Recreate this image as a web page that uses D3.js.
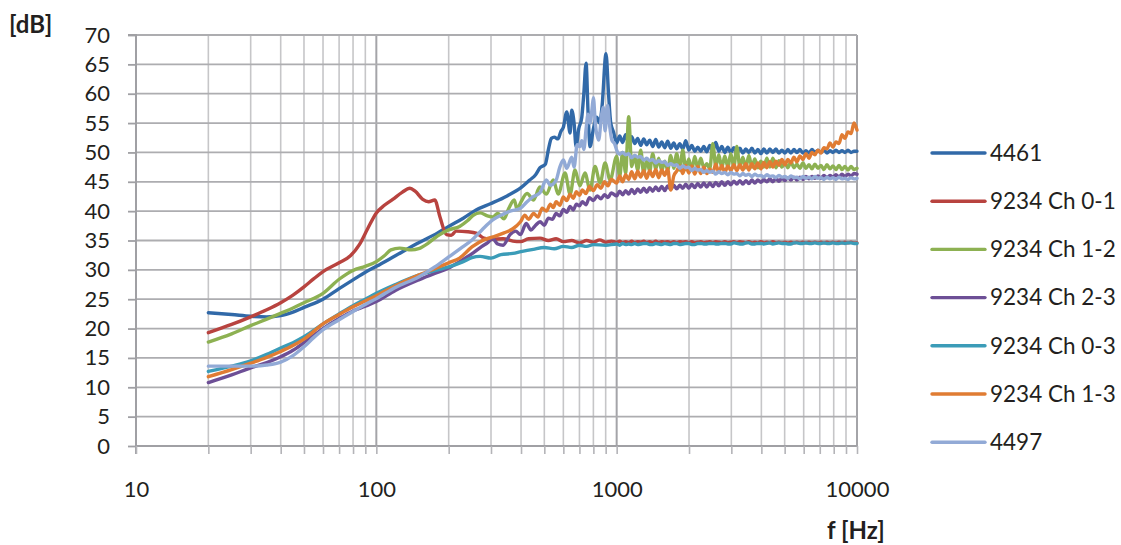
<!DOCTYPE html>
<html><head><meta charset="utf-8">
<script src="https://cdn.jsdelivr.net/npm/d3@7"></script>
<style>
body{margin:0;background:#fff}
svg{display:block;font-family:Lato,"Open Sans",sans-serif}
</style>
</head><body>
<svg id="c" width="1121" height="545"></svg>
<script>
// ---- data ----
const seriesNames = ["4461","9234 Ch 0-1","9234 Ch 1-2","9234 Ch 2-3","9234 Ch 0-3","9234 Ch 1-3","4497"];
const seriesColors = ["#3169a8","#b8433f","#8db152","#6d4f96","#3b9cb8","#e07c33","#92aad6"];
const yTicks = [0,5,10,15,20,25,30,35,40,45,50,55,60,65,70];
const xDecades = [10,100,1000,10000];
const xTickLabels = ["10","100","1000","10000"];

// shared high-frequency grid (Hz) for 1 kHz .. 10 kHz
const freqHF = [1000,1029,1059,1090,1122,1155,1189,1223,1259,1296,
  1334,1372,1413,1454,1496,1540,1585,1631,1679,1728,
  1778,1830,1884,1939,1995,2054,2113,2175,2239,2304,
  2371,2441,2512,2585,2661,2738,2818,2901,2985,3073,
  3162,3255,3350,3447,3548,3652,3758,3868,3981,4097,
  4217,4340,4467,4597,4732,4870,5012,5158,5309,5464,
  5623,5788,5957,6131,6310,6494,6683,6879,7079,7286,
  7499,7718,7943,8175,8414,8660,8913,9173,9441,9716,
  10000];

// low / mid frequency parts [Hz, dB]
const lf4461 = [[20,22.7],[25,22.4],[30,22.1],[35,22.0],[40,22.2],[45,22.8],[50,23.6],[60,25.0],[70,26.8],[80,28.3],[90,29.6],[100,30.6],[120,32.4],[150,34.6],[180,36.3],[200,37.4],[230,38.8],[260,40.2],[300,41.3],[350,42.6],[400,44.0],[435,45.3],[460,46.2],[480,47.4],[505,48.0],[520,50.5],[535,52.4],[550,52.6],[570,52.3],[585,53.5],[600,54.3],[620,56.9],[640,53.3],[650,57.2],[665,55.0],[678,51.0],[695,54.0],[716,56.0],[730,60.0],[746,65.2],[760,57.0],[775,51.0],[800,54.0],[826,56.0],[850,55.0],[870,58.0],[903,66.8],[925,60.0],[945,55.0],[970,53.5]];
const lfCh01 = [[20,19.3],[25,20.7],[30,22.0],[35,23.2],[40,24.4],[45,25.7],[50,27.1],[55,28.5],[60,29.7],[70,31.2],[78,32.4],[85,34.3],[92,37.0],[100,39.7],[108,41.0],[117,42.0],[128,43.2],[138,43.9],[145,43.4],[156,42.0],[165,41.6],[175,41.9],[184,39.0],[196,36.0],[205,35.9],[215,36.6],[240,36.5],[262,36.2],[280,35.4],[300,35.2],[337,35.3],[370,34.9],[398,34.8],[430,35.3],[480,35.4],[520,35.0],[560,35.3],[600,34.8],[650,35.0],[700,34.6],[750,35.0],[800,34.7],[850,35.1],[900,34.7],[950,34.9]];
const lfCh12 = [[20,17.7],[25,19.1],[30,20.5],[35,21.6],[40,22.6],[45,23.5],[50,24.4],[60,26.0],[70,28.4],[80,29.9],[90,30.6],[100,31.4],[108,32.4],[115,33.4],[125,33.7],[140,33.4],[150,33.6],[165,34.6],[180,35.8],[200,36.8],[222,37.4],[240,38.4],[253,39.3],[270,39.7],[290,39.2],[305,39.0],[320,39.6],[340,38.7],[355,40.4],[375,41.9],[385,40.3],[398,41.4],[424,43.0],[451,41.9],[479,44.1],[510,42.9],[545,45.3],[571,42.9],[610,46.5],[640,42.9],[671,47.0],[703,44.3],[738,46.5],[775,43.6],[813,47.6],[853,44.8],[895,48.2],[939,45.3]];
const lfCh23 = [[20,10.8],[25,12.1],[30,13.3],[35,14.2],[40,15.2],[45,16.3],[50,17.6],[60,20.0],[70,21.7],[80,23.0],[90,23.8],[100,24.6],[120,26.5],[150,28.3],[175,29.4],[200,30.3],[222,31.4],[253,32.9],[275,34.0],[290,34.6],[305,35.3],[320,34.4],[337,34.2],[360,36.0],[380,36.6],[398,36.0],[420,37.9],[440,36.8],[460,37.6],[480,38.2],[500,37.6],[520,38.8],[540,38.6],[560,39.6],[580,39.2],[600,40.3],[620,39.8],[640,40.8],[660,40.2],[680,41.2],[700,40.9],[720,41.6],[745,41.1],[770,42.3],[800,41.8],[830,42.6],[860,42.1],[890,42.8],[920,42.3],[950,43.1]];
const lfCh03 = [[20,12.7],[25,13.6],[30,14.5],[35,15.6],[40,16.7],[45,17.6],[50,18.6],[60,20.8],[70,22.5],[80,23.9],[90,25.0],[100,26.0],[120,27.5],[150,29.1],[180,30.0],[200,30.5],[230,31.4],[250,32.1],[270,32.3],[300,32.0],[330,32.6],[370,32.8],[400,33.1],[450,33.5],[500,33.8],[550,33.6],[600,34.0],[650,33.8],[700,34.2],[750,34.0],[800,34.3],[900,34.2]];
const lfCh13 = [[20,11.8],[25,13.0],[30,14.1],[35,15.1],[40,16.1],[45,17.1],[50,18.2],[60,20.8],[70,22.4],[80,23.7],[90,24.7],[100,25.6],[120,27.3],[150,29.1],[175,30.2],[200,31.2],[222,32.0],[250,33.9],[280,35.1],[305,35.6],[340,36.3],[370,37.0],[398,38.2],[415,39.3],[430,38.6],[451,39.6],[470,39.0],[490,40.5],[510,40.0],[530,41.2],[545,40.6],[560,41.6],[580,41.0],[600,42.4],[620,41.8],[640,42.9],[660,42.2],[680,43.3],[700,42.7],[720,43.6],[745,43.0],[770,44.2],[800,43.5],[830,44.5],[860,43.9],[890,45.0],[920,44.3],[950,45.4]];
const lf4497 = [[20,13.6],[25,13.6],[30,13.6],[35,13.8],[40,14.3],[45,15.4],[50,16.9],[55,18.5],[60,19.8],[70,21.5],[80,22.9],[90,24.1],[100,25.1],[120,27.0],[150,28.8],[175,30.5],[200,32.2],[225,33.7],[250,35.1],[275,36.8],[305,38.5],[330,39.3],[360,40.0],[398,40.5],[424,41.6],[451,42.5],[479,43.1],[510,45.3],[530,44.4],[560,45.3],[580,47.5],[600,48.7],[620,47.3],[650,49.2],[665,47.5],[685,51.3],[703,51.0],[716,52.0],[730,50.5],[746,54.0],[760,56.5],[775,55.0],[790,57.5],[800,59.3],[815,55.0],[841,52.1],[867,56.6],[880,57.7],[895,53.7],[916,58.0],[935,54.5],[955,52.1],[980,51.5]];

// values on freqHF
const hf4461 = [51.6,52.8,51.7,53.0,51.6,52.7,51.5,52.4,51.2,52.3,
  51.3,52.1,51.0,52.2,50.9,51.8,50.8,51.9,50.7,51.6,
  50.6,51.5,50.6,52.0,50.4,51.2,50.2,50.9,50.2,51.0,
  50.1,51.2,50.3,51.7,50.2,51.0,50.0,50.9,50.0,50.8,
  49.9,50.7,49.9,50.6,50.0,50.7,49.9,50.5,49.8,50.6,
  49.9,50.6,50.0,50.6,49.9,50.4,49.9,50.5,49.9,50.5,
  50.0,50.5,49.9,50.3,49.9,50.5,50.0,50.4,50.0,50.5,
  49.9,50.3,50.0,50.4,50.0,50.3,50.0,50.4,50.0,50.2,
  50.2];
const hfCh01 = [34.7,34.9,34.6,34.8,34.6,34.9,34.6,34.8,34.7,34.9,
  34.6,34.8,34.6,34.9,34.6,34.8,34.7,34.8,34.6,34.8,
  34.6,34.8,34.7,34.8,34.6,34.8,34.6,34.7,34.8,34.6,
  34.7,34.8,34.6,34.8,34.7,34.6,34.8,34.6,34.7,34.8,
  34.6,34.8,34.7,34.6,34.8,34.6,34.7,34.6,34.8,34.6,
  34.7,34.6,34.8,34.6,34.7,34.6,34.7,34.6,34.7,34.6,
  34.7,34.6,34.7,34.6,34.7,34.6,34.7,34.6,34.7,34.6,
  34.7,34.6,34.7,34.6,34.7,34.6,34.7,34.6,34.7,34.6,
  34.6];
const hfCh12 = [49.3,45.9,50.0,46.5,56.1,47.6,49.5,47.0,50.4,46.4,
  48.8,46.8,49.8,47.2,49.0,46.9,48.5,47.0,49.5,47.3,
  49.8,47.0,50.4,47.1,48.9,47.0,49.3,47.3,49.0,47.4,
  48.1,47.2,51.5,47.6,49.6,47.4,49.4,47.5,49.8,47.5,
  51.0,47.5,49.2,47.4,49.5,47.5,48.9,47.4,48.5,47.5,
  49.0,47.5,49.0,47.4,48.6,47.5,48.2,47.4,48.4,47.4,
  48.0,47.3,48.2,47.3,47.9,47.2,48.0,47.3,47.8,47.1,
  47.9,47.2,47.7,47.1,47.8,47.1,47.6,47.0,47.6,47.1,
  47.3];
const hfCh23 = [42.6,43.4,42.8,43.5,42.9,43.7,43.0,43.8,43.2,43.9,
  43.2,44.0,43.4,44.1,43.5,44.2,43.5,44.3,43.7,44.4,
  43.8,44.4,43.9,44.6,43.9,44.6,44.0,44.7,44.1,44.8,
  44.1,44.8,44.2,44.9,44.3,45.0,44.4,45.0,44.5,45.1,
  44.6,45.2,44.6,45.2,44.7,45.3,44.8,45.3,44.9,45.4,
  45.0,45.5,45.0,45.6,45.1,45.6,45.2,45.7,45.3,45.8,
  45.3,45.8,45.4,45.9,45.5,45.9,45.6,46.0,45.6,46.1,
  45.7,46.1,45.8,46.2,45.8,46.3,45.9,46.3,46.0,46.4,
  46.3];
const hfCh03 = [34.4,34.2,34.5,34.3,34.4,34.3,34.5,34.3,34.4,34.5,
  34.5,34.3,34.3,34.5,34.4,34.3,34.5,34.4,34.3,34.5,
  34.5,34.3,34.4,34.5,34.5,34.3,34.3,34.5,34.5,34.4,
  34.4,34.5,34.5,34.4,34.4,34.5,34.5,34.4,34.4,34.6,
  34.5,34.4,34.4,34.6,34.6,34.4,34.4,34.5,34.5,34.4,
  34.5,34.6,34.4,34.5,34.6,34.5,34.5,34.4,34.4,34.6,
  34.6,34.5,34.5,34.6,34.5,34.5,34.6,34.5,34.5,34.6,
  34.5,34.5,34.6,34.5,34.5,34.6,34.5,34.6,34.6,34.5,
  34.5];
const hfCh13 = [44.8,46.0,45.0,46.2,45.4,46.7,45.5,46.8,45.8,46.9,
  45.6,46.9,45.9,47.1,45.7,47.0,46.1,47.2,43.6,46.0,
  46.8,47.7,46.4,47.8,46.5,47.7,46.3,47.6,46.4,47.5,
  46.4,47.2,46.6,48.0,46.6,47.8,46.6,47.7,46.9,47.9,
  46.9,47.9,47.0,48.1,47.0,48.1,47.2,48.2,47.2,48.3,
  47.4,48.4,47.5,48.5,47.8,48.8,47.9,48.8,48.2,49.2,
  48.4,49.4,48.8,49.8,49.0,50.0,49.6,50.4,49.9,50.8,
  50.6,51.6,50.9,51.8,51.5,53.0,52.4,53.5,53.2,55.0,
  53.8];
const hf4497 = [50.4,49.7,50.0,49.6,49.8,49.1,49.5,49.2,49.3,48.7,
  49.0,48.6,48.8,48.2,48.6,48.3,48.4,47.8,48.1,47.8,
  47.9,47.3,47.7,47.4,47.5,46.9,47.3,47.0,47.1,46.6,
  46.9,46.6,46.8,46.3,46.7,46.4,46.6,46.2,46.6,46.3,
  46.4,46.0,46.4,46.1,46.3,45.9,46.3,46.0,46.1,45.8,
  46.2,45.9,46.0,45.7,46.1,45.8,45.9,45.6,46.0,45.7,
  45.8,45.5,45.9,45.6,45.8,45.5,45.9,45.6,45.7,45.4,
  45.8,45.5,45.7,45.4,45.8,45.5,45.6,45.4,45.7,45.5,
  45.6];

const lowParts = [lf4461, lfCh01, lfCh12, lfCh23, lfCh03, lfCh13, lf4497];
const highParts = [hf4461, hfCh01, hfCh12, hfCh23, hfCh03, hfCh13, hf4497];

// ---- chart ----
const svg = d3.select("#c");
const x = d3.scaleLog().domain([10,10000]).range([136,857]);
const y = d3.scaleLinear().domain([0,70]).range([446,35]);

const minorX = [];
for (const d of [10,100,1000]) for (let k=2;k<=9;k++) minorX.push(d*k);

// vertical gridlines
svg.append("g").selectAll("line").data(minorX).join("line")
  .attr("x1",d=>x(d)).attr("x2",d=>x(d)).attr("y1",y(70)).attr("y2",y(0))
  .attr("stroke","#c6c6c8").attr("stroke-width",1.6);
svg.append("g").selectAll("line").data([100,1000,10000]).join("line")
  .attr("x1",d=>x(d)).attr("x2",d=>x(d)).attr("y1",y(70)).attr("y2",y(0))
  .attr("stroke","#a4a4a8").attr("stroke-width",2);
// horizontal gridlines
svg.append("g").selectAll("line").data(yTicks).join("line")
  .attr("x1",x(10)).attr("x2",x(10000)).attr("y1",d=>y(d)).attr("y2",d=>y(d))
  .attr("stroke","#adadb0").attr("stroke-width",1.8);

// axes
const yAxis = d3.axisLeft(y).tickValues(yTicks).tickSize(8).tickPadding(18);
const gy = svg.append("g").attr("transform",`translate(${x(10)},0)`).call(yAxis);
gy.select(".domain").attr("stroke","#a0a0a4").attr("stroke-width",2).attr("d",`M-8,${y(70)}H0V${y(0)+8}`);
gy.selectAll(".tick line").attr("stroke","#a0a0a4").attr("stroke-width",1.8);
gy.selectAll("text").attr("fill","#231f20").style("font-size","22px").style("font-family","Lato");

const xAxis = d3.axisBottom(x).tickValues(xDecades.concat(minorX)).tickSize(8).tickPadding(27)
  .tickFormat(d=>{const i=xDecades.indexOf(d);return i>=0?xTickLabels[i]:"";});
const gx = svg.append("g").attr("transform",`translate(0,${y(0)})`).call(xAxis);
gx.select(".domain").attr("stroke","#a0a0a4").attr("stroke-width",2).attr("d",`M${x(10)},0H${x(10000)}`);
gx.selectAll(".tick line").attr("stroke","#b4b4b8").attr("stroke-width",1.6);
gx.selectAll("text").attr("fill","#231f20").style("font-size","22px").style("font-family","Lato");

// lines
const line = d3.line().x(d=>x(d[0])).y(d=>y(d[1])).curve(d3.curveMonotoneX);
const series = seriesNames.map((n,i)=>({name:n,color:seriesColors[i],
  values: lowParts[i].concat(freqHF.map((f,j)=>[f,highParts[i][j]]).filter(p=>p[1]!==undefined))}));
svg.append("g").selectAll("path").data(series).join("path")
  .attr("d",d=>line(d.values)).attr("fill","none")
  .attr("stroke",d=>d.color).attr("stroke-width",3.4)
  .attr("stroke-linejoin","round").attr("stroke-linecap","round");

// axis titles
svg.append("text").attr("x",9).attr("y",33).text("[dB]")
  .attr("fill","#231f20").style("font-size","24px").style("font-weight","bold");
svg.append("text").attr("x",827).attr("y",539).text("f [Hz]")
  .attr("fill","#231f20").style("font-size","24px").style("font-weight","bold");

// legend
const lg = svg.append("g").selectAll("g").data(series).join("g")
  .attr("transform",(d,i)=>`translate(932,${153+i*48.2})`);
lg.append("line").attr("x1",0).attr("x2",53).attr("stroke",d=>d.color).attr("stroke-width",3.4).attr("stroke-linecap","round");
lg.append("text").attr("x",58).attr("dy","0.35em").text(d=>d.name)
  .attr("fill","#231f20").style("font-size","22.5px");
</script>
</body></html>
